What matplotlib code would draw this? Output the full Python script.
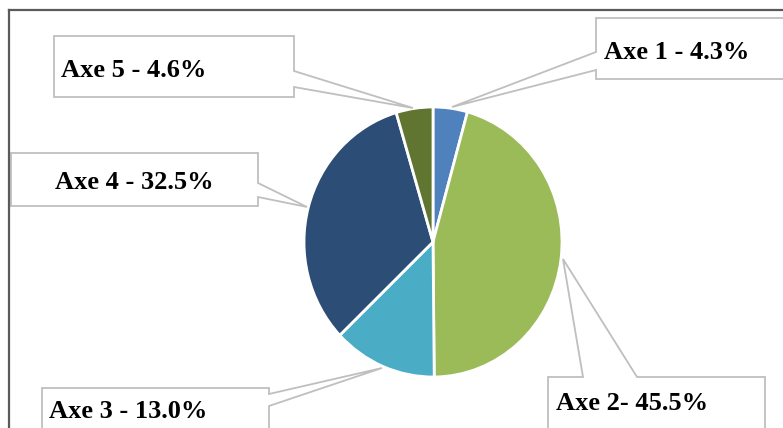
import matplotlib.pyplot as plt
from matplotlib.patches import Polygon

# Share of each axis (percent), clockwise from 12 o'clock
axes_names = ['Axe 1', 'Axe 2', 'Axe 3', 'Axe 4', 'Axe 5']
shares = [4.3, 45.5, 13.0, 32.5, 4.6]
label_sep = [' - ', '- ', ' - ', ' - ', ' - ']
colors = ['#4F81BD', '#9BBB59', '#4BACC6', '#2C4D75', '#5F7530']

W, H = 783, 428

# Callout outlines in pixel coords (box with a pointer towards its slice)
callouts = [
    [(596, 18), (800, 18), (800, 79), (596, 79), (596, 70), (452, 107), (596, 52)],
    [(548, 377), (583, 377), (563, 259), (637, 377), (765, 377), (765, 440), (548, 440)],
    [(42, 388), (269, 388), (269, 394), (382, 368), (269, 406), (269, 440), (42, 440)],
    [(11, 153), (258, 153), (258, 183), (307, 207), (258, 197), (258, 206), (11, 206)],
    [(54, 36), (294, 36), (294, 71), (413, 108), (294, 87), (294, 97), (54, 97)],
]
text_pos = [(604, 52), (556, 403), (49, 412), (55, 182), (61, 70)]

fig = plt.figure(figsize=(W / 100, H / 100), dpi=100)

# Pie lives in its own axes so it can be slightly squeezed horizontally
left, top, right, bottom = 304, 107, 562, 377
pie_ax = fig.add_axes([left / W, (H - bottom) / H, (right - left) / W, (bottom - top) / H])
pie_ax.pie(shares, colors=colors, startangle=90, counterclock=False,
           wedgeprops=dict(edgecolor='white', linewidth=2))
pie_ax.set_aspect('auto')
pie_ax.set_xlim(-1, 1)
pie_ax.set_ylim(-1, 1)
pie_ax.axis('off')

# Overlay in pixel coordinates for the frame and the callouts
ov = fig.add_axes([0, 0, 1, 1], zorder=5)
ov.set_xlim(0, W)
ov.set_ylim(H, 0)
ov.axis('off')
ov.patch.set_visible(False)

# Chart frame (only top and left edges fall inside the image)
ov.plot([9, W + 5], [10, 10], color='#5A5A5A', lw=1.6, solid_capstyle='projecting')
ov.plot([9, 9], [10, H + 5], color='#5A5A5A', lw=1.6, solid_capstyle='projecting')

for name, val, sep, pts, (tx, ty) in zip(axes_names, shares, label_sep, callouts, text_pos):
    ov.add_patch(Polygon(pts, closed=True, facecolor='white', edgecolor='#BFBFBF',
                         lw=1.3, joinstyle='miter'))
    ov.text(tx, ty, f'{name}{sep}{val:.1f}%', ha='left', va='center',
            family='Liberation Serif', fontweight='bold', fontsize=19, color='black')

fig.savefig('out.png', dpi=100)
